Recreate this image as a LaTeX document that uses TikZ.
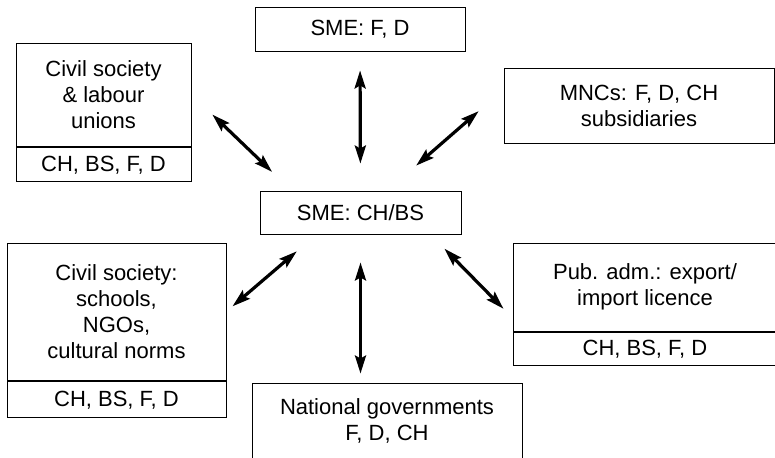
\documentclass[tikz,border=0pt]{standalone}
\usepackage{fontspec}
\setmainfont{Liberation Sans}
\usetikzlibrary{arrows.meta,calc,positioning}
\tikzset{
    actorbox/.style = {rectangle, draw=black, line width=0.9pt, align=center,
                       inner sep=0pt, font=\fontsize{22}{26}\selectfont},
    countrybox/.style = {actorbox, minimum height=34pt},
    linkArrow/.style = {<->, >={Stealth[length=18pt,width=11pt,inset=3pt]}, line width=3.2pt}
}
\begin{document}
\begin{tikzpicture}[x=1pt, y=1pt]
\useasboundingbox (0,0) rectangle (775,457);
% central node and its partners
\node[actorbox, minimum width=201pt, minimum height=43pt] (smech) at (360.5,244.5) {SME: CH/BS};
\node[actorbox, minimum width=210pt, minimum height=44pt] (smefd) at (360,428) {SME: F, D};
\node[actorbox, minimum width=175pt, minimum height=103pt] (civlab) at (103.5,362.5)
   {Civil society\\ \& labour\\ unions};
\node[countrybox, minimum width=175pt, below=1pt of civlab] (civlabc) {CH, BS, F, D};
\node[actorbox, minimum width=270pt, minimum height=75pt] (mncs) at (639,351.5)
   {MNCs: F, D, CH\\ subsidiaries};
\node[actorbox, minimum width=219pt, minimum height=137pt] (civsch) at (116.5,145.5)
   {Civil society:\\ schools,\\ NGOs,\\ cultural norms};
\node[countrybox, minimum width=219pt, minimum height=36pt, below=1pt of civsch] (civschc) {CH, BS, F, D};
\node[actorbox, minimum width=264pt, minimum height=88pt] (pubadm) at (645,170)
   {Pub. adm.: export/\\ import licence};
\node[countrybox, minimum width=264pt, minimum height=33pt, below=1pt of pubadm] (pubadmc) {CH, BS, F, D};
\node[actorbox, minimum width=270pt, minimum height=76pt] (natgov) at (387,36)
   {National governments\\ F, D, CH};
% links
\draw[linkArrow, shorten <=27pt, shorten >=19pt] (smech.north) -- (smefd.south);
\draw[linkArrow, shorten <=28pt, shorten >=9pt] (smech.south) -- (smech.south |- natgov.north);
\draw[linkArrow, shorten <=27pt, shorten >=29pt] ($(smech.north west)+(32,0)$) -- (civlab.east);
\draw[linkArrow, shorten <=38pt, shorten >=33pt] ($(smech.north)+(27,0)$) -- ($(mncs.west)+(0,16)$);
\draw[linkArrow, shorten <=26pt, shorten >=8pt] ($(smech.south west)+(57,0)$) -- (civsch.east);
\draw[linkArrow, shorten <=20pt, shorten >=13pt] ($(smech.south east)+(-31,0)$) -- ($(pubadm.west)+(0,-31)$);
\end{tikzpicture}
\end{document}
